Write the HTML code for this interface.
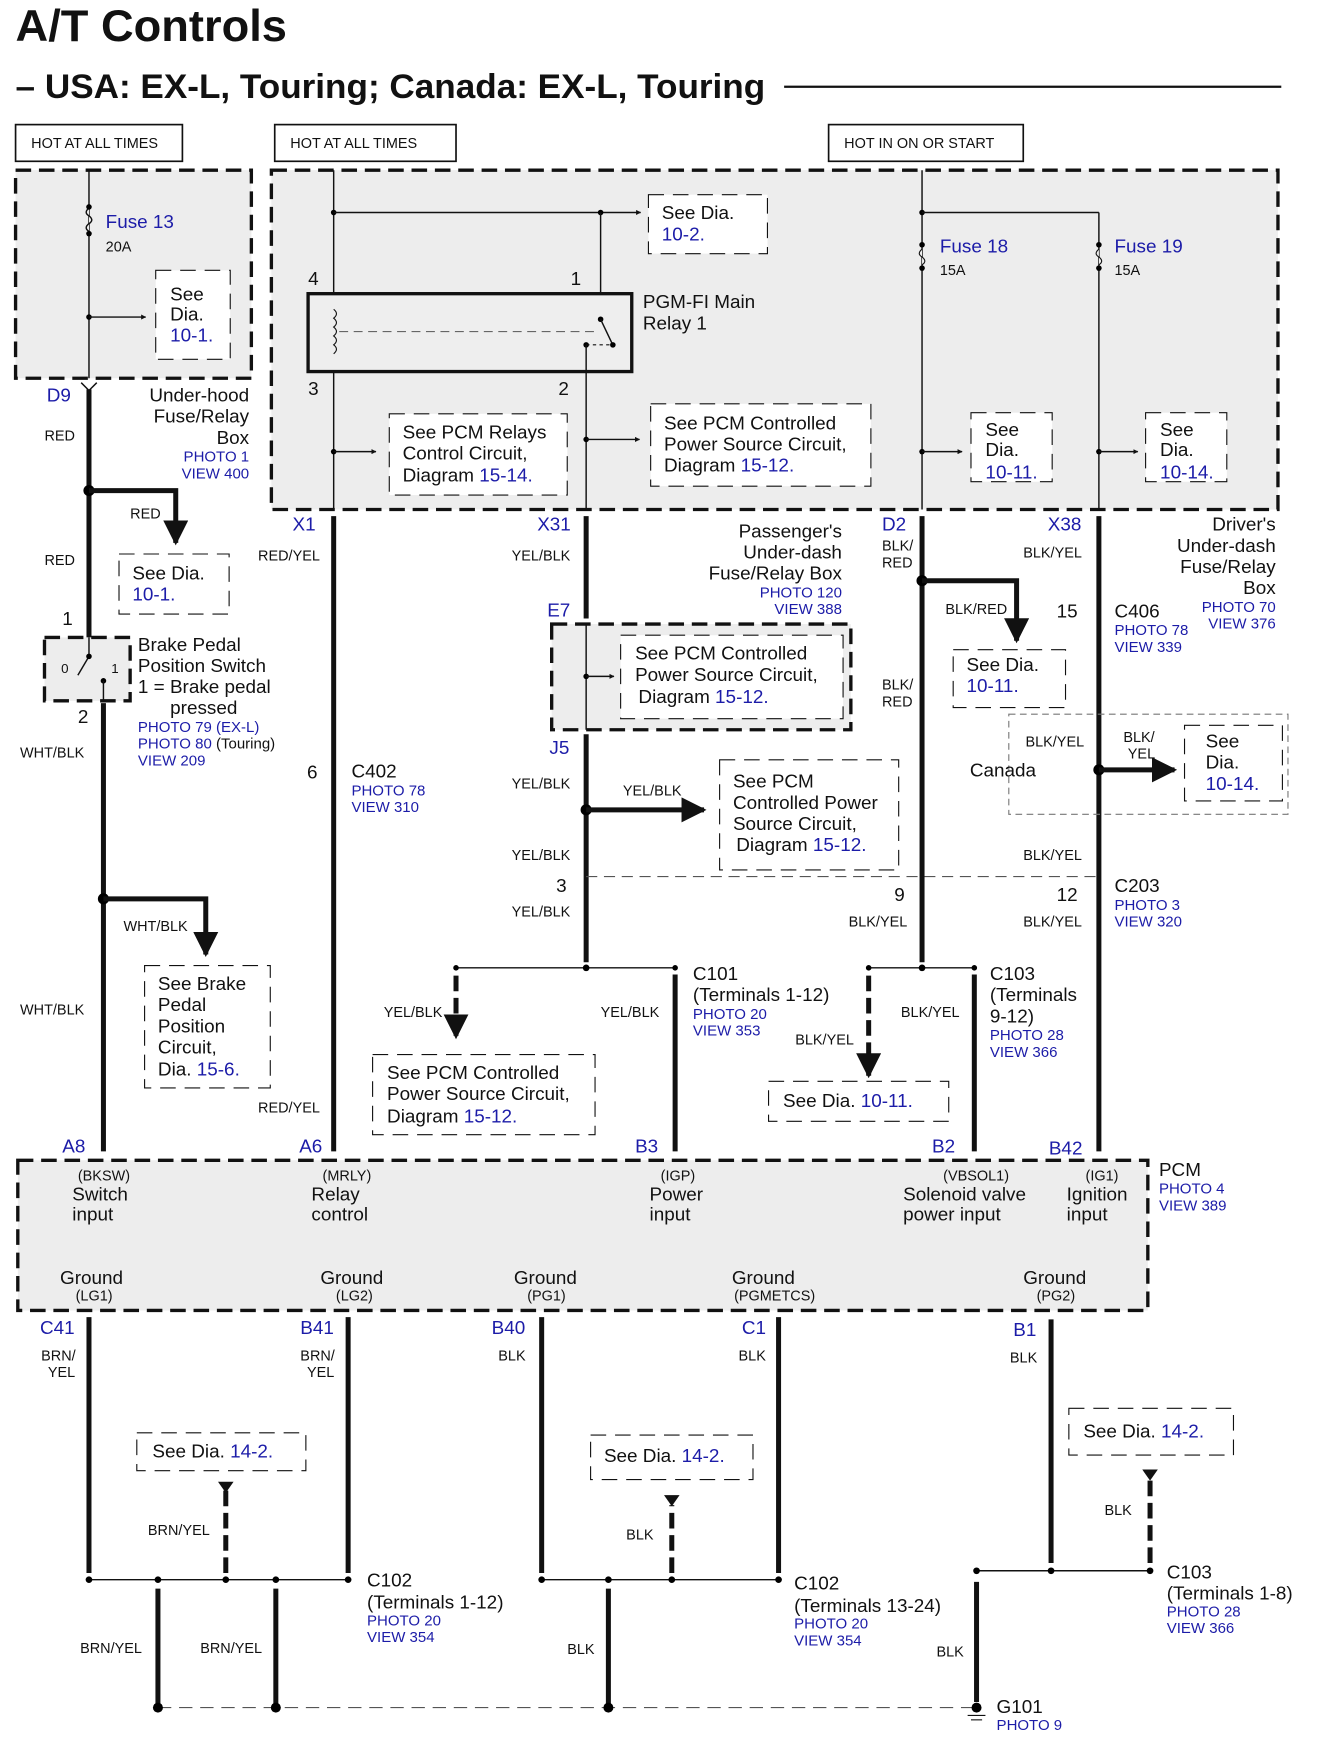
<!DOCTYPE html>
<html><head><meta charset="utf-8"><style>
html,body{margin:0;padding:0;background:#fff}
svg{display:block}
text{font-family:"Liberation Sans",Arial,sans-serif;fill:#111}
.b{fill:#1c1ca8}
.s{font-size:13px}
.m{font-size:17px}
.p{font-size:13.5px;fill:#1c1ca8}
.w{stroke:#111;stroke-width:4.5;fill:none}
.t{stroke:#111;stroke-width:1.3;fill:none}
.db{stroke:#111;stroke-width:1;stroke-dasharray:14 8;fill:#fff}
.gb{stroke:#111;stroke-width:3;stroke-dasharray:14 7;fill:#ededed}
.dw{stroke:#111;stroke-width:4.5;stroke-dasharray:14 6;fill:none}
</style></head><body>
<svg width="1318" height="1751" viewBox="0 0 1185 1574" preserveAspectRatio="none" xmlns="http://www.w3.org/2000/svg">
<defs>
<marker id="a" viewBox="0 0 10 10" refX="9" refY="5" markerWidth="5" markerHeight="5" orient="auto"><path d="M0,0L10,5L0,10z" fill="#111"/></marker>
<marker id="A" viewBox="0 0 10 10" refX="9" refY="5" markerWidth="3.5" markerHeight="3.5" orient="auto"><path d="M0,0L10,5L0,10z" fill="#111"/></marker>
</defs>
<text x="14" y="37" style="font-size:40px;font-weight:bold" textLength="244" lengthAdjust="spacingAndGlyphs">A/T Controls</text>
<text x="14" y="88" style="font-size:31px;font-weight:bold" textLength="674" lengthAdjust="spacingAndGlyphs">– USA: EX-L, Touring; Canada: EX-L, Touring</text>
<line x1="705" y1="78" x2="1152" y2="78" stroke="#111" stroke-width="2"/>

<rect x="14" y="112" width="150" height="33" fill="#fff" stroke="#111" stroke-width="1.5"/><text x="28" y="133" class="s">HOT AT ALL TIMES</text>
<rect x="247" y="112" width="163" height="33" fill="#fff" stroke="#111" stroke-width="1.5"/><text x="261" y="133" class="s">HOT AT ALL TIMES</text>
<rect x="745" y="112" width="175" height="33" fill="#fff" stroke="#111" stroke-width="1.5"/><text x="759" y="133" class="s">HOT IN ON OR START</text>

<rect x="14" y="153" width="212" height="187" class="gb"/>
<rect x="244" y="153" width="905" height="305" class="gb"/>

<!-- fuse 13 -->
<line x1="80" y1="153" x2="80" y2="340" class="t"/>
<path d="M80,187 q-5,4 0,7 q5,4 0,7 q-5,4 0,7" fill="#eee" stroke="#111" stroke-width="1.3"/>
<circle cx="80" cy="186" r="2.5"/><circle cx="80" cy="210" r="2.5"/>
<text x="95" y="205" class="m b">Fuse 13</text><text x="95" y="226" class="s">20A</text>
<circle cx="80" cy="285" r="2.5"/><line x1="80" y1="285" x2="131" y2="285" class="t" marker-end="url(#A)"/>
<rect x="140" y="243" width="67" height="80" class="db"/>
<text x="153" y="270" class="m">See</text><text x="153" y="288" class="m">Dia.</text><text x="153" y="307" class="m b">10-1.</text>

<text x="42" y="361" class="m b">D9</text>
<path d="M73,344 L80,351 L87,344" class="t" stroke-width="2.5"/>
<line x1="80" y1="350" x2="80" y2="573" class="w"/>
<text x="224" y="361" class="m" text-anchor="end">Under-hood</text>
<text x="224" y="380" class="m" text-anchor="end">Fuse/Relay</text>
<text x="224" y="399" class="m" text-anchor="end">Box</text>
<text x="224" y="415" class="p" text-anchor="end">PHOTO 1</text>
<text x="224" y="430" class="p" text-anchor="end">VIEW 400</text>
<text x="40" y="396" class="s">RED</text>
<circle cx="80" cy="441" r="5"/><polyline points="80,441 158,441 158,488" class="w" marker-end="url(#a)"/>
<text x="117" y="466" class="s">RED</text><text x="40" y="508" class="s">RED</text>
<rect x="107" y="498" width="99" height="54" class="db"/>
<text x="119" y="521" class="m">See Dia.</text><text x="119" y="540" class="m b">10-1.</text>

<!-- brake switch -->
<text x="56" y="562" class="m">1</text>
<rect x="40" y="573" width="77" height="57" class="gb" stroke-width="2.5"/>
<line x1="80" y1="573" x2="80" y2="590" class="t"/><line x1="80" y1="590" x2="70" y2="607" class="t"/>
<circle cx="80" cy="590" r="2.5"/><circle cx="93" cy="612" r="2.5"/><line x1="93" y1="612" x2="93" y2="630" class="t"/>
<text x="55" y="605" style="font-size:12px">0</text><text x="100" y="605" style="font-size:12px">1</text>
<text x="70" y="650" class="m">2</text>
<line x1="93" y1="632" x2="93" y2="1035" class="w"/>
<text x="124" y="585" class="m">Brake Pedal</text>
<text x="124" y="604" class="m">Position Switch</text>
<text x="124" y="623" class="m">1 = Brake pedal</text>
<text x="153" y="642" class="m">pressed</text>
<text x="124" y="658" class="p">PHOTO 79 (EX-L)</text>
<text x="124" y="673" class="p">PHOTO 80 <tspan style="fill:#111">(Touring)</tspan></text>
<text x="124" y="688" class="p">VIEW 209</text>
<text x="18" y="681" class="s">WHT/BLK</text>
<circle cx="93" cy="808" r="5"/><polyline points="93,808 185,808 185,858" class="w" marker-end="url(#a)"/>
<text x="111" y="837" class="s">WHT/BLK</text><text x="18" y="912" class="s">WHT/BLK</text>
<rect x="130" y="868" width="113" height="110" class="db"/>
<text x="142" y="890" class="m">See Brake</text><text x="142" y="909" class="m">Pedal</text><text x="142" y="928" class="m">Position</text><text x="142" y="947" class="m">Circuit,</text><text x="142" y="967" class="m">Dia. <tspan class="b">15-6.</tspan></text>

<!-- relay -->
<line x1="300" y1="153" x2="300" y2="458" class="t"/>
<circle cx="300" cy="191" r="2.5"/><line x1="300" y1="191" x2="576" y2="191" class="t" marker-end="url(#A)"/>
<circle cx="540" cy="191" r="2.5"/><line x1="540" y1="191" x2="540" y2="300" class="t"/>
<rect x="583" y="175" width="107" height="53" class="db" fill="#eee"/>
<text x="595" y="197" class="m">See Dia.</text><text x="595" y="216" class="m b">10-2.</text>
<rect x="277" y="264" width="291" height="70" fill="#eee" stroke="#111" stroke-width="3"/>
<path d="M300,278 q5,4 0,8 q5,4 0,8 q5,4 0,8 q5,4 0,8 q5,4 0,8" fill="none" stroke="#111"/>
<line x1="305" y1="298" x2="535" y2="298" stroke="#666" stroke-dasharray="8 5"/>
<circle cx="540" cy="287" r="2.5"/><line x1="540" y1="287" x2="550" y2="308" class="t"/><circle cx="551" cy="310" r="2.5"/>
<circle cx="527" cy="310" r="2.5"/><line x1="527" y1="310" x2="548" y2="310" stroke="#111" stroke-dasharray="3 3"/>
<line x1="527" y1="310" x2="527" y2="458" class="t"/>
<text x="277" y="256" class="m">4</text><text x="513" y="256" class="m">1</text>
<text x="277" y="355" class="m">3</text><text x="502" y="355" class="m">2</text>
<text x="578" y="277" class="m">PGM-FI Main</text><text x="578" y="296" class="m">Relay 1</text>
<circle cx="300" cy="406" r="2.5"/><line x1="300" y1="406" x2="338" y2="406" class="t" marker-end="url(#A)"/>
<rect x="350" y="372" width="160" height="73" class="db" fill="#eee"/>
<text x="362" y="394" class="m">See PCM Relays</text><text x="362" y="413" class="m">Control Circuit,</text><text x="362" y="433" class="m">Diagram <tspan class="b">15-14.</tspan></text>
<circle cx="527" cy="395" r="2.5"/><line x1="527" y1="395" x2="575" y2="395" class="t" marker-end="url(#A)"/>
<rect x="585" y="363" width="198" height="74" class="db" fill="#eee"/>
<text x="597" y="386" class="m">See PCM Controlled</text><text x="597" y="405" class="m">Power Source Circuit,</text><text x="597" y="424" class="m">Diagram <tspan class="b">15-12.</tspan></text>

<!-- fuses 18/19 -->
<line x1="829" y1="153" x2="829" y2="458" class="t"/>
<line x1="988" y1="191" x2="988" y2="458" class="t"/>
<circle cx="829" cy="191" r="2.5"/><line x1="829" y1="191" x2="988" y2="191" class="t"/>
<path d="M829,224 q-5,4 0,7 q5,4 0,7" fill="#eee" stroke="#111"/><circle cx="829" cy="220" r="2.5"/><circle cx="829" cy="241" r="2.5"/>
<path d="M988,224 q-5,4 0,7 q5,4 0,7" fill="#eee" stroke="#111"/><circle cx="988" cy="220" r="2.5"/><circle cx="988" cy="241" r="2.5"/>
<text x="845" y="227" class="m b">Fuse 18</text><text x="845" y="247" class="s">15A</text>
<text x="1002" y="227" class="m b">Fuse 19</text><text x="1002" y="247" class="s">15A</text>
<circle cx="829" cy="406" r="2.5"/><line x1="829" y1="406" x2="865" y2="406" class="t" marker-end="url(#A)"/>
<rect x="873" y="371" width="73" height="62" class="db" fill="#eee"/>
<text x="886" y="392" class="m">See</text><text x="886" y="410" class="m">Dia.</text><text x="886" y="430" class="m b">10-11.</text>
<circle cx="988" cy="406" r="2.5"/><line x1="988" y1="406" x2="1023" y2="406" class="t" marker-end="url(#A)"/>
<rect x="1030" y="371" width="73" height="62" class="db" fill="#eee"/>
<text x="1043" y="392" class="m">See</text><text x="1043" y="410" class="m">Dia.</text><text x="1043" y="430" class="m b">10-14.</text>

<!-- X1 -->
<text x="263" y="477" class="m b">X1</text>
<line x1="300" y1="464" x2="300" y2="1035" class="w"/>
<text x="232" y="504" class="s">RED/YEL</text><text x="232" y="1000" class="s">RED/YEL</text>
<text x="276" y="700" class="m">6</text><text x="316" y="699" class="m">C402</text>
<text x="316" y="715" class="p">PHOTO 78</text><text x="316" y="730" class="p">VIEW 310</text>
<text x="269" y="1036" class="m b">A6</text><text x="56" y="1036" class="m b">A8</text>

<!-- X31 -->
<text x="483" y="477" class="m b">X31</text>
<text x="757" y="483" class="m" text-anchor="end">Passenger's</text>
<text x="757" y="502" class="m" text-anchor="end">Under-dash</text>
<text x="757" y="521" class="m" text-anchor="end">Fuse/Relay Box</text>
<text x="757" y="537" class="p" text-anchor="end">PHOTO 120</text>
<text x="757" y="552" class="p" text-anchor="end">VIEW 388</text>
<line x1="527" y1="464" x2="527" y2="556" class="w"/>
<text x="460" y="504" class="s">YEL/BLK</text>
<text x="492" y="554" class="m b">E7</text>
<rect x="496" y="561" width="269" height="95" class="gb"/>
<line x1="527" y1="561" x2="527" y2="656" class="t"/>
<circle cx="527" cy="608" r="2.5"/><line x1="527" y1="608" x2="552" y2="608" class="t" marker-end="url(#A)"/>
<rect x="558" y="571" width="200" height="75" class="db" fill="#eee"/>
<text x="571" y="593" class="m">See PCM Controlled</text><text x="571" y="612" class="m">Power Source Circuit,</text><text x="574" y="632" class="m">Diagram <tspan class="b">15-12.</tspan></text>
<text x="494" y="678" class="m b">J5</text>
<line x1="527" y1="660" x2="527" y2="865" class="w"/>
<text x="460" y="709" class="s">YEL/BLK</text><text x="560" y="715" class="s">YEL/BLK</text>
<circle cx="527" cy="728" r="5"/><line x1="527" y1="728" x2="633" y2="728" class="w" marker-end="url(#a)"/>
<rect x="647" y="683" width="161" height="99" class="db"/>
<text x="659" y="708" class="m">See PCM</text><text x="659" y="727" class="m">Controlled Power</text><text x="659" y="746" class="m">Source Circuit,</text><text x="662" y="765" class="m">Diagram <tspan class="b">15-12.</tspan></text>
<text x="460" y="773" class="s">YEL/BLK</text>
<line x1="527" y1="788" x2="988" y2="788" stroke="#555" stroke-dasharray="10 6"/>
<text x="500" y="802" class="m">3</text>
<text x="460" y="824" class="s">YEL/BLK</text>
<line x1="410" y1="870" x2="607" y2="870" class="t"/>
<circle cx="410" cy="870" r="2.5"/><circle cx="527" cy="870" r="3"/><circle cx="607" cy="870" r="2.5"/>
<line x1="410" y1="877" x2="410" y2="932" class="dw" marker-end="url(#a)"/>
<text x="345" y="914" class="s">YEL/BLK</text><text x="540" y="914" class="s">YEL/BLK</text>
<rect x="335" y="948" width="200" height="72" class="db"/>
<text x="348" y="970" class="m">See PCM Controlled</text><text x="348" y="989" class="m">Power Source Circuit,</text><text x="348" y="1009" class="m">Diagram <tspan class="b">15-12.</tspan></text>
<line x1="607" y1="876" x2="607" y2="1035" class="w"/>
<text x="623" y="881" class="m">C101</text><text x="623" y="900" class="m">(Terminals 1-12)</text>
<text x="623" y="916" class="p">PHOTO 20</text><text x="623" y="931" class="p">VIEW 353</text>
<text x="571" y="1036" class="m b">B3</text>

<!-- D2 -->
<text x="793" y="477" class="m b">D2</text>
<line x1="829" y1="464" x2="829" y2="865" class="w"/>
<text x="793" y="495" class="s">BLK/</text><text x="793" y="510" class="s">RED</text>
<circle cx="829" cy="522" r="5"/><polyline points="829,522 914,522 914,576" class="w" marker-end="url(#a)"/>
<text x="850" y="552" class="s">BLK/RED</text>
<rect x="857" y="584" width="101" height="52" class="db"/>
<text x="869" y="603" class="m">See Dia.</text><text x="869" y="622" class="m b">10-11.</text>
<text x="793" y="620" class="s">BLK/</text><text x="793" y="635" class="s">RED</text>
<text x="804" y="810" class="m">9</text>
<text x="763" y="833" class="s">BLK/YEL</text>
<line x1="781" y1="870" x2="876" y2="870" class="t"/>
<circle cx="781" cy="870" r="2.5"/><circle cx="829" cy="870" r="3"/><circle cx="876" cy="870" r="2.5"/>
<line x1="781" y1="877" x2="781" y2="967" class="dw" marker-end="url(#a)"/>
<text x="810" y="914" class="s">BLK/YEL</text><text x="715" y="939" class="s">BLK/YEL</text>
<rect x="691" y="972" width="162" height="36" class="db"/>
<text x="704" y="995" class="m">See Dia. <tspan class="b">10-11.</tspan></text>
<line x1="876" y1="876" x2="876" y2="1035" class="w"/>
<text x="890" y="881" class="m">C103</text><text x="890" y="900" class="m">(Terminals</text><text x="890" y="919" class="m">9-12)</text>
<text x="890" y="935" class="p">PHOTO 28</text><text x="890" y="950" class="p">VIEW 366</text>
<text x="838" y="1036" class="m b">B2</text>

<!-- X38 -->
<text x="942" y="477" class="m b">X38</text>
<text x="1147" y="477" class="m" text-anchor="end">Driver's</text>
<text x="1147" y="496" class="m" text-anchor="end">Under-dash</text>
<text x="1147" y="515" class="m" text-anchor="end">Fuse/Relay</text>
<text x="1147" y="534" class="m" text-anchor="end">Box</text>
<text x="1147" y="550" class="p" text-anchor="end">PHOTO 70</text>
<text x="1147" y="565" class="p" text-anchor="end">VIEW 376</text>
<line x1="988" y1="464" x2="988" y2="1035" class="w"/>
<text x="920" y="501" class="s">BLK/YEL</text>
<text x="950" y="555" class="m">15</text><text x="1002" y="555" class="m">C406</text>
<text x="1002" y="571" class="p">PHOTO 78</text><text x="1002" y="586" class="p">VIEW 339</text>
<rect x="907" y="642" width="251" height="90" fill="none" stroke="#777" stroke-dasharray="6 4"/>
<text x="922" y="671" class="s">BLK/YEL</text><text x="872" y="698" class="m">Canada</text>
<text x="1010" y="667" class="s">BLK/</text><text x="1014" y="682" class="s">YEL</text>
<circle cx="988" cy="692" r="5"/><line x1="988" y1="692" x2="1056" y2="692" class="w" marker-end="url(#a)"/>
<rect x="1065" y="652" width="88" height="68" class="db"/>
<text x="1084" y="672" class="m">See</text><text x="1084" y="691" class="m">Dia.</text><text x="1084" y="710" class="m b">10-14.</text>
<text x="920" y="773" class="s">BLK/YEL</text>
<text x="950" y="810" class="m">12</text><text x="1002" y="802" class="m">C203</text>
<text x="1002" y="818" class="p">PHOTO 3</text><text x="1002" y="833" class="p">VIEW 320</text>
<text x="920" y="833" class="s">BLK/YEL</text>
<text x="943" y="1038" class="m b">B42</text>

<!-- PCM -->
<rect x="16" y="1043" width="1016" height="135" class="gb"/>
<text x="1042" y="1057" class="m">PCM</text><text x="1042" y="1073" class="p">PHOTO 4</text><text x="1042" y="1088" class="p">VIEW 389</text>
<text x="70" y="1061" class="s">(BKSW)</text><text x="65" y="1079" class="m">Switch</text><text x="65" y="1097" class="m">input</text>
<text x="290" y="1061" class="s">(MRLY)</text><text x="280" y="1079" class="m">Relay</text><text x="280" y="1097" class="m">control</text>
<text x="594" y="1061" class="s">(IGP)</text><text x="584" y="1079" class="m">Power</text><text x="584" y="1097" class="m">input</text>
<text x="848" y="1061" class="s">(VBSOL1)</text><text x="812" y="1079" class="m">Solenoid valve</text><text x="812" y="1097" class="m">power input</text>
<text x="976" y="1061" class="s">(IG1)</text><text x="959" y="1079" class="m">Ignition</text><text x="959" y="1097" class="m">input</text>
<text x="54" y="1154" class="m">Ground</text><text x="68" y="1169" class="s">(LG1)</text>
<text x="288" y="1154" class="m">Ground</text><text x="302" y="1169" class="s">(LG2)</text>
<text x="462" y="1154" class="m">Ground</text><text x="474" y="1169" class="s">(PG1)</text>
<text x="658" y="1154" class="m">Ground</text><text x="660" y="1169" class="s">(PGMETCS)</text>
<text x="920" y="1154" class="m">Ground</text><text x="932" y="1169" class="s">(PG2)</text>

<!-- bottom -->
<text x="36" y="1199" class="m b">C41</text><text x="270" y="1199" class="m b">B41</text><text x="442" y="1199" class="m b">B40</text><text x="667" y="1199" class="m b">C1</text><text x="911" y="1201" class="m b">B1</text>
<line x1="80" y1="1184" x2="80" y2="1414" class="w"/>
<line x1="313" y1="1184" x2="313" y2="1414" class="w"/>
<line x1="487" y1="1184" x2="487" y2="1414" class="w"/>
<line x1="700" y1="1184" x2="700" y2="1414" class="w"/>
<line x1="945" y1="1186" x2="945" y2="1405" class="w"/>
<text x="37" y="1223" class="s">BRN/</text><text x="43" y="1238" class="s">YEL</text>
<text x="270" y="1223" class="s">BRN/</text><text x="276" y="1238" class="s">YEL</text>
<text x="448" y="1223" class="s">BLK</text><text x="664" y="1223" class="s">BLK</text><text x="908" y="1225" class="s">BLK</text>

<line x1="80" y1="1420" x2="313" y2="1420" class="t"/>
<circle cx="80" cy="1420" r="3"/><circle cx="142" cy="1420" r="3"/><circle cx="203" cy="1420" r="3"/><circle cx="248" cy="1420" r="3"/><circle cx="313" cy="1420" r="3"/>
<line x1="203" y1="1414" x2="203" y2="1340" class="dw"/><path d="M196,1332 L210,1332 L203,1342z" fill="#111"/>
<rect x="123" y="1288" width="152" height="34" class="db"/><text x="137" y="1310" class="m">See Dia. <tspan class="b">14-2.</tspan></text>
<text x="133" y="1380" class="s">BRN/YEL</text>
<line x1="142" y1="1428" x2="142" y2="1535" class="w"/><line x1="248" y1="1428" x2="248" y2="1535" class="w"/>
<text x="72" y="1486" class="s">BRN/YEL</text><text x="180" y="1486" class="s">BRN/YEL</text>
<text x="330" y="1426" class="m">C102</text><text x="330" y="1446" class="m">(Terminals 1-12)</text>
<text x="330" y="1461" class="p">PHOTO 20</text><text x="330" y="1476" class="p">VIEW 354</text>

<line x1="487" y1="1420" x2="700" y2="1420" class="t"/>
<circle cx="487" cy="1420" r="3"/><circle cx="547" cy="1420" r="3"/><circle cx="604" cy="1420" r="3"/><circle cx="700" cy="1420" r="3"/>
<line x1="604" y1="1414" x2="604" y2="1353" class="dw"/><path d="M597,1344 L611,1344 L604,1354z" fill="#111"/>
<rect x="531" y="1290" width="146" height="40" class="db"/><text x="543" y="1314" class="m">See Dia. <tspan class="b">14-2.</tspan></text>
<text x="563" y="1384" class="s">BLK</text>
<line x1="547" y1="1428" x2="547" y2="1535" class="w"/>
<text x="510" y="1487" class="s">BLK</text>
<text x="714" y="1429" class="m">C102</text><text x="714" y="1449" class="m">(Terminals 13-24)</text>
<text x="714" y="1464" class="p">PHOTO 20</text><text x="714" y="1479" class="p">VIEW 354</text>

<line x1="878" y1="1412" x2="1034" y2="1412" class="t"/>
<circle cx="878" cy="1412" r="3"/><circle cx="945" cy="1412" r="3"/><circle cx="1034" cy="1412" r="3"/>
<line x1="1034" y1="1405" x2="1034" y2="1330" class="dw"/><path d="M1027,1321 L1041,1321 L1034,1331z" fill="#111"/>
<rect x="961" y="1266" width="148" height="42" class="db"/><text x="974" y="1292" class="m">See Dia. <tspan class="b">14-2.</tspan></text>
<text x="993" y="1362" class="s">BLK</text>
<line x1="878" y1="1422" x2="878" y2="1530" class="w"/>
<text x="842" y="1489" class="s">BLK</text>
<text x="1049" y="1419" class="m">C103</text><text x="1049" y="1438" class="m">(Terminals 1-8)</text>
<text x="1049" y="1453" class="p">PHOTO 28</text><text x="1049" y="1468" class="p">VIEW 366</text>

<line x1="142" y1="1535" x2="878" y2="1535" stroke="#555" stroke-dasharray="12 7"/>
<circle cx="142" cy="1535" r="4.5"/><circle cx="248" cy="1535" r="4.5"/><circle cx="547" cy="1535" r="4.5"/><circle cx="878" cy="1535" r="4.5"/>
<line x1="870" y1="1542" x2="886" y2="1542" stroke="#111"/><line x1="873" y1="1546" x2="883" y2="1546" stroke="#111"/>
<text x="896" y="1540" class="m">G101</text><text x="896" y="1555" class="p">PHOTO 9</text>
</svg>
</body></html>
